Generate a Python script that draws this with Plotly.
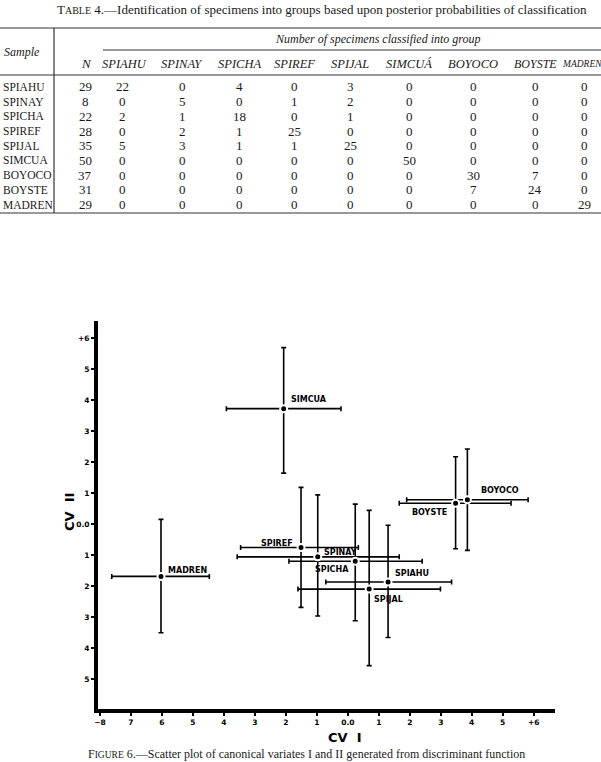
import plotly.graph_objects as go

# ---------------- data: scatter of canonical variates ----------------
groups = ["SPIAHU", "SPINAY", "SPICHA", "SPIREF", "SPIJAL", "SIMCUA", "BOYOCO", "BOYSTE", "MADREN"]
cv1 = [1.30, -0.97, 0.24, -1.51, 0.69, -2.07, 3.86, 3.48, -6.03]
cv2 = [-1.86, -1.05, -1.19, -0.75, -2.09, 3.73, 0.79, 0.68, -1.68]
cv1_low = [-0.71, -3.57, -1.90, -3.46, -1.61, -3.92, 1.90, 1.66, -7.62]
cv1_high = [3.35, 1.66, 2.40, 0.34, 2.99, -0.22, 5.82, 5.27, -4.47]
cv2_low = [-3.65, -2.96, -3.11, -2.68, -4.56, 1.65, -0.84, -0.79, -3.50]
cv2_high = [-0.03, 0.95, 0.65, 1.19, 0.45, 5.70, 2.43, 2.18, 0.16]

x_tickvals = list(range(-8, 7))
x_ticktext = ["\u22128", "7", "6", "5", "4", "3", "2", "1", "0.0", "1", "2", "3", "4", "5", "+6"]
y_tickvals = list(range(-6, 7))
y_ticktext = ["\u22126", "5", "4", "3", "2", "1", "0.0", "1", "2", "3", "4", "5", "+6"]

# ---------------- data: table 4 ----------------
table_title = "T<span style='font-size:10px'>ABLE</span> 4.\u2014Identification of specimens into groups based upon posterior probabilities of classification"
table_samples = ["SPIAHU", "SPINAY", "SPICHA", "SPIREF", "SPIJAL", "SIMCUA", "BOYOCO", "BOYSTE", "MADREN"]
table_groups = ["SPIAHU", "SPINAY", "SPICHA", "SPIREF", "SPIJAL", "SIMCU\u00c1", "BOYOCO", "BOYSTE", "MADREN"]
n_specimens = [29, 8, 22, 28, 35, 50, 37, 31, 29]
row_spiahu = [22, 0, 4, 0, 3, 0, 0, 0, 0]
row_spinay = [0, 5, 0, 1, 2, 0, 0, 0, 0]
row_spicha = [2, 1, 18, 0, 1, 0, 0, 0, 0]
row_spiref = [0, 2, 1, 25, 0, 0, 0, 0, 0]
row_spijal = [5, 3, 1, 1, 25, 0, 0, 0, 0]
row_simcua = [0, 0, 0, 0, 0, 50, 0, 0, 0]
row_boyoco = [0, 0, 0, 0, 0, 0, 30, 7, 0]
row_boyste = [0, 0, 0, 0, 0, 0, 7, 24, 0]
row_madren = [0, 0, 0, 0, 0, 0, 0, 0, 29]
caption = "F<span style='font-size:9.5px'>IGURE</span> 6.\u2014Scatter plot of canonical variates I and II generated from discriminant function"

table_rows = [row_spiahu, row_spinay, row_spicha, row_spiref, row_spijal,
              row_simcua, row_boyoco, row_boyste, row_madren]

# ---------------- layout geometry (pixels) ----------------
W, H = 601, 762
ML, MR, MT, MB = 98, 46, 321, 53
PW, PH = W - ML - MR, H - MT - MB
UX, X0 = 30.98, 347.8
UY, Y0 = 31.0, 524.3
x_range = [(ML - X0) / UX, (W - MR - X0) / UX]
y_range = [(Y0 - (H - MB)) / UY, (Y0 - MT) / UY]


def px(x):
    return (x - ML) / PW


def py(y):
    return (H - MB - y) / PH


# label placement (style only)
label_anchor = ["left", "left", "right", "right", "left", "left", "left", "right", "left"]
label_dx = [5, 4, -4, -6, 3, 5, 12, -7, 5]
label_dy = [8, 4, -8, 4, -10, 9, 9, -9, 6]

fig = go.Figure()
fig.add_trace(go.Scatter(
    x=cv1, y=cv2, mode="markers",
    marker=dict(color="black", size=7, line=dict(color="white", width=2)),
    error_x=dict(type="data", symmetric=False,
                 array=[h - c for h, c in zip(cv1_high, cv1)],
                 arrayminus=[c - l for c, l in zip(cv1, cv1_low)],
                 color="black", thickness=1.6, width=2.5),
    error_y=dict(type="data", symmetric=False,
                 array=[h - c for h, c in zip(cv2_high, cv2)],
                 arrayminus=[c - l for c, l in zip(cv2, cv2_low)],
                 color="black", thickness=1.6, width=2.5),
    hoverinfo="skip", showlegend=False,
))

ann = []
lab_font = dict(family="DejaVu Sans", size=8, color="black", weight="bold")
for g, x, y, a, dx, dy in zip(groups, cv1, cv2, label_anchor, label_dx, label_dy):
    ann.append(dict(x=x, y=y, xref="x", yref="y", text=g, showarrow=False,
                    xanchor=a, yanchor="middle", xshift=dx, yshift=dy, font=lab_font))

# axis titles
ann.append(dict(x=px(345), y=py(737), xref="paper", yref="paper", text="CV\u00a0\u00a0I",
                showarrow=False, xanchor="center", yanchor="middle",
                font=dict(family="DejaVu Sans", size=13, color="black", weight="bold")))
ann.append(dict(x=px(69), y=py(512), xref="paper", yref="paper", text="CV\u00a0\u00a0II",
                showarrow=False, xanchor="center", yanchor="middle", textangle=-90,
                font=dict(family="DejaVu Sans", size=13, color="black", weight="bold")))

# ---------------- table ----------------
serif = "Liberation Serif"
tcol = "#1a1a1a"
ann.append(dict(x=px(322), y=py(9), xref="paper", yref="paper", text=table_title,
                showarrow=False, xanchor="center", yanchor="middle",
                font=dict(family=serif, size=13, color=tcol)))
ann.append(dict(x=px(22), y=py(52), xref="paper", yref="paper", text="<i>Sample</i>",
                showarrow=False, xanchor="center", yanchor="middle",
                font=dict(family=serif, size=12, color=tcol)))
ann.append(dict(x=px(378), y=py(39), xref="paper", yref="paper",
                text="<i>Number of specimens classified into group</i>",
                showarrow=False, xanchor="center", yanchor="middle",
                font=dict(family=serif, size=12, color=tcol)))

n_col_x = 85
group_col_x = [122, 182, 239, 294, 350, 409, 473, 535, 584]
group_head_x = [124, 182, 239, 294, 350, 409, 473, 535, 582]
group_head_size = [12.5, 12.5, 12.5, 12.5, 12.5, 12.5, 12.5, 12, 9.5]
head_y = 64
row_y0, row_dy = 87, 14.7

ann.append(dict(x=px(86), y=py(head_y), xref="paper", yref="paper", text="<i>N</i>",
                showarrow=False, xanchor="center", yanchor="middle",
                font=dict(family=serif, size=13, color=tcol)))
for gname, cx, fs in zip(table_groups, group_head_x, group_head_size):
    ann.append(dict(x=px(cx), y=py(head_y), xref="paper", yref="paper",
                    text="<i>" + gname + "</i>",
                    showarrow=False, xanchor="center", yanchor="middle",
                    font=dict(family=serif, size=fs, color=tcol)))

for i, (s, n, row) in enumerate(zip(table_samples, n_specimens, table_rows)):
    yy = py(row_y0 + i * row_dy)
    ann.append(dict(x=px(1), y=yy, xref="paper", yref="paper", text=s, showarrow=False,
                    xanchor="left", yanchor="middle", font=dict(family=serif, size=11.5, color=tcol)))
    ann.append(dict(x=px(n_col_x), y=yy, xref="paper", yref="paper", text=str(n), showarrow=False,
                    xanchor="center", yanchor="middle", font=dict(family=serif, size=13, color=tcol)))
    for v, cx in zip(row, group_col_x):
        ann.append(dict(x=px(cx), y=yy, xref="paper", yref="paper", text=str(v), showarrow=False,
                        xanchor="center", yanchor="middle", font=dict(family=serif, size=13, color=tcol)))

ann.append(dict(x=px(306), y=py(754), xref="paper", yref="paper", text=caption,
                showarrow=False, xanchor="center", yanchor="middle",
                font=dict(family=serif, size=12, color=tcol)))

line_style = dict(color="#333333", width=1.2)
shapes = [
    dict(type="line", xref="paper", yref="paper", x0=px(0), x1=px(W), y0=py(28), y1=py(28), line=line_style),
    dict(type="line", xref="paper", yref="paper", x0=px(103), x1=px(W), y0=py(50), y1=py(50), line=line_style),
    dict(type="line", xref="paper", yref="paper", x0=px(0), x1=px(W), y0=py(75), y1=py(75), line=line_style),
    dict(type="line", xref="paper", yref="paper", x0=px(0), x1=px(W), y0=py(213), y1=py(213), line=line_style),
    dict(type="line", xref="paper", yref="paper", x0=px(54), x1=px(54), y0=py(28), y1=py(213), line=line_style),
]

axis_common = dict(showgrid=False, zeroline=False, showline=True, linecolor="black", linewidth=4,
                   ticks="outside", ticklen=3, tickwidth=1.5, tickcolor="black",
                   tickfont=dict(family="DejaVu Sans", size=7.5, color="black", weight="bold"),
                   mirror=False)

fig.update_layout(
    width=W, height=H,
    margin=dict(l=ML, r=MR, t=MT, b=MB, pad=0),
    paper_bgcolor="white", plot_bgcolor="white",
    xaxis=dict(range=x_range, tickmode="array", tickvals=x_tickvals, ticktext=x_ticktext, **axis_common),
    yaxis=dict(range=y_range, tickmode="array", tickvals=y_tickvals, ticktext=y_ticktext, **axis_common),
    annotations=ann, shapes=shapes, showlegend=False,
)

fig.write_html("out.html", config={"displayModeBar": False})
